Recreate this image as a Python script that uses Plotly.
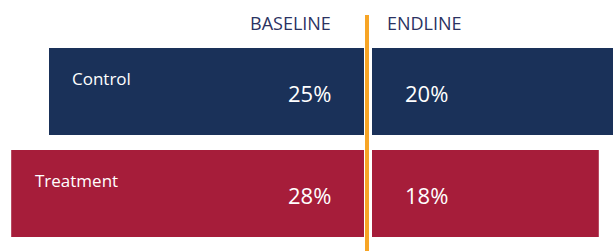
import plotly.graph_objects as go

groups = ["Control", "Treatment"]
baseline = [25, 28]
endline = [20, 18]
headers = ["BASELINE", "ENDLINE"]
colors = ["#1a3159", "#a61d3a"]

W, H = 613, 251
PX = 12.6  # px per percentage point
base_edge = 364
end_edge = 372
ypos = [1, 0]

fig = go.Figure()
for g, b, e, c, y in zip(groups, baseline, endline, colors, ypos):
    fig.add_trace(go.Bar(x=[b], y=[y], orientation="h", marker_color=c,
                         marker_line_width=0, width=0.853, xaxis="x", yaxis="y",
                         hoverinfo="skip", showlegend=False))
    fig.add_trace(go.Bar(x=[e], y=[y], orientation="h", marker_color=c,
                         marker_line_width=0, width=0.853, xaxis="x2", yaxis="y",
                         hoverinfo="skip", showlegend=False))

ann = []
lab_font = dict(family="Open Sans", size=17, color="white")
val_font = dict(family="Open Sans", size=22, color="white")
for g, b, e, y in zip(groups, baseline, endline, ypos):
    ann.append(dict(x=b - 1.7, y=y, xref="x", yref="y", text=g, showarrow=False,
                    xanchor="left", yanchor="middle", yshift=13, font=lab_font))
    ann.append(dict(x=2.46, y=y, xref="x", yref="y", text=f"{b}%", showarrow=False,
                    xanchor="right", yanchor="middle", yshift=-1, font=val_font))
    ann.append(dict(x=2.46, y=y, xref="x2", yref="y", text=f"{e}%", showarrow=False,
                    xanchor="left", yanchor="middle", yshift=-1, font=val_font))

hdr_font = dict(family="Open Sans", size=18, color="#2b3262")
ann.append(dict(x=333 / W, y=1 - 22.5 / H, xref="paper", yref="paper", text=headers[0],
                showarrow=False, xanchor="right", yanchor="middle", font=hdr_font))
ann.append(dict(x=385 / W, y=1 - 22.5 / H, xref="paper", yref="paper", text=headers[1],
                showarrow=False, xanchor="left", yanchor="middle", font=hdr_font))

fig.update_layout(
    width=W, height=H,
    margin=dict(l=0, r=0, t=0, b=0),
    paper_bgcolor="white", plot_bgcolor="white",
    barmode="overlay",
    xaxis=dict(domain=[0, base_edge / W], range=[base_edge / PX, 0], visible=False, fixedrange=True),
    xaxis2=dict(domain=[end_edge / W, 1], range=[0, (W - end_edge) / PX], visible=False, fixedrange=True),
    yaxis=dict(domain=[0, 1], range=[-0.5637, 1.897], visible=False, fixedrange=True),
    annotations=ann,
    shapes=[dict(type="line", xref="paper", yref="paper", x0=367 / W, x1=367 / W,
                 y0=0, y1=1 - 15 / H, line=dict(color="#f7a526", width=4))],
)

fig.write_html("out.html", config={"displayModeBar": False},
               post_script="document.body.style.margin='0';document.body.style.overflow='hidden';")
